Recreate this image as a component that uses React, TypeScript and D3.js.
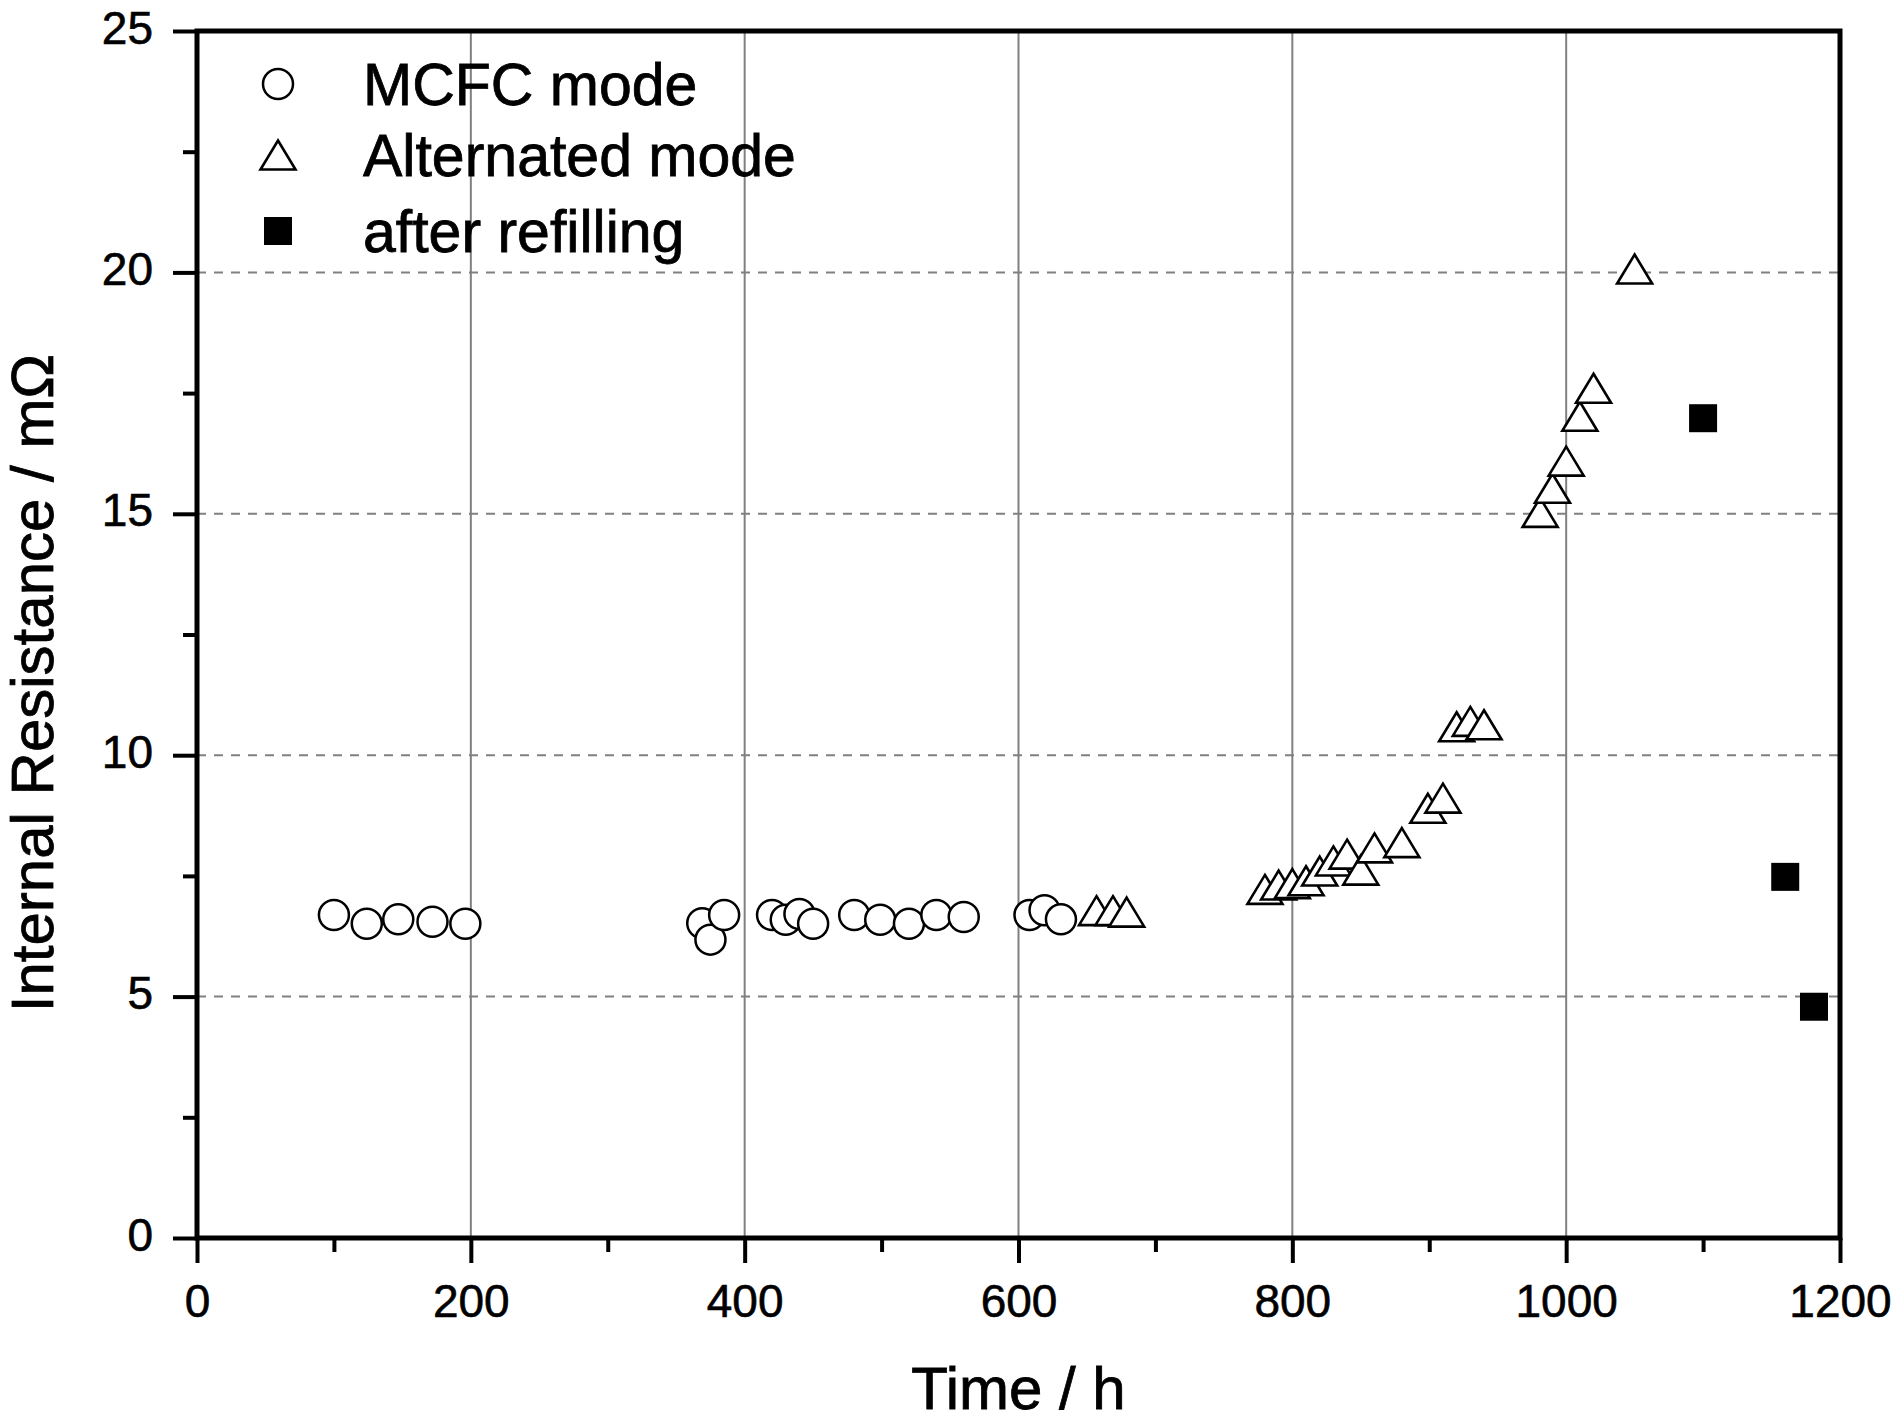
import { useEffect, useRef } from 'react';
import * as d3 from 'd3';

// MCFC mode (open circles)
const mcfcTime = [100, 124, 147, 172, 196, 369, 375, 385, 420, 430, 440, 450, 480, 499, 520, 540, 560, 608, 619, 631];
const mcfcValue = [6.69, 6.51, 6.6, 6.55, 6.51, 6.52, 6.18, 6.69, 6.69, 6.59, 6.71, 6.51, 6.69, 6.59, 6.51, 6.69, 6.65, 6.69, 6.79, 6.6];

// Alternated mode (open triangles)
const altTime = [657, 669, 679, 780, 790, 800, 810, 820, 830, 840, 850, 860, 880, 899, 910, 920, 930, 940, 981, 990, 1000, 1010, 1020, 1050];
const altValue = [6.78, 6.78, 6.75, 7.22, 7.31, 7.34, 7.4, 7.6, 7.81, 7.95, 7.62, 8.08, 8.19, 8.9, 9.11, 10.59, 10.7, 10.63, 15.03, 15.53, 16.09, 17.02, 17.6, 20.07];

// after refilling (filled squares)
const refillTime = [1100, 1160, 1181];
const refillValue = [16.98, 7.48, 4.79];

const xTicks = [0, 200, 400, 600, 800, 1000, 1200];
const xMinorTicks = [100, 300, 500, 700, 900, 1100];
const yTicks = [0, 5, 10, 15, 20, 25];
const yMinorTicks = [2.5, 7.5, 12.5, 17.5, 22.5];
const xGrid = [200, 400, 600, 800, 1000];
const yGrid = [5, 10, 15, 20];
const legendLabels = ['MCFC mode', 'Alternated mode', 'after refilling'];

const W = 1900;
const H = 1422;
const FONT = '"Liberation Sans", Arial, sans-serif';

export default function App() {
  const svgRef = useRef<SVGSVGElement>(null);

  useEffect(() => {
    if (!svgRef.current) return;
    const svg = d3.select(svgRef.current);
    svg.selectAll('*').remove();

    const left = 197;
    const right = 1840;
    const top = 31;
    const bottom = 1238;

    const x = d3.scaleLinear().domain([0, 1200]).range([left, right]);
    const y = d3.scaleLinear().domain([0, 25]).range([bottom, top]);

    svg.append('rect').attr('width', W).attr('height', H).attr('fill', '#fff');

    // grid
    svg
      .append('g')
      .selectAll('line')
      .data(xGrid)
      .enter()
      .append('line')
      .attr('x1', (d) => x(d))
      .attr('x2', (d) => x(d))
      .attr('y1', top)
      .attr('y2', bottom)
      .attr('stroke', '#808080')
      .attr('stroke-width', 2);

    svg
      .append('g')
      .selectAll('line')
      .data(yGrid)
      .enter()
      .append('line')
      .attr('x1', left)
      .attr('x2', right)
      .attr('y1', (d) => y(d))
      .attr('y2', (d) => y(d))
      .attr('stroke', '#808080')
      .attr('stroke-width', 2)
      .attr('stroke-dasharray', '9,8');

    // markers
    const circle = d3.symbol().type(d3.symbolCircle).size(Math.PI * 15 * 15);
    const tri = () => 'M0,-14.5L17.5,14.5L-17.5,14.5Z';

    svg
      .append('g')
      .selectAll('path')
      .data(mcfcTime.map((t, i) => [t, mcfcValue[i]]))
      .enter()
      .append('path')
      .attr('d', circle as any)
      .attr('transform', (d) => `translate(${x(d[0])},${y(d[1])})`)
      .attr('fill', '#fff')
      .attr('stroke', '#000')
      .attr('stroke-width', 2.5);

    svg
      .append('g')
      .selectAll('path')
      .data(altTime.map((t, i) => [t, altValue[i]]))
      .enter()
      .append('path')
      .attr('d', tri)
      .attr('transform', (d) => `translate(${x(d[0])},${y(d[1])})`)
      .attr('fill', '#fff')
      .attr('stroke', '#000')
      .attr('stroke-width', 2.6);

    svg
      .append('g')
      .selectAll('rect')
      .data(refillTime.map((t, i) => [t, refillValue[i]]))
      .enter()
      .append('rect')
      .attr('x', (d) => x(d[0]) - 14)
      .attr('y', (d) => y(d[1]) - 14)
      .attr('width', 28)
      .attr('height', 28)
      .attr('fill', '#000');

    // frame
    svg
      .append('rect')
      .attr('x', left)
      .attr('y', top)
      .attr('width', right - left)
      .attr('height', bottom - top)
      .attr('fill', 'none')
      .attr('stroke', '#000')
      .attr('stroke-width', 5);

    const fmt = d3.format('d');

    // x axis
    const gx = svg.append('g').attr('transform', `translate(0,${bottom})`);
    const gxMinor = svg.append('g').attr('transform', `translate(0,${bottom})`);
    gx.call(d3.axisBottom(x).tickValues(xTicks).tickSize(25).tickSizeOuter(0).tickFormat(fmt as any));
    gxMinor.call(d3.axisBottom(x).tickValues(xMinorTicks).tickSize(14).tickSizeOuter(0).tickFormat(() => ''));
    [gx, gxMinor].forEach((g) => {
      g.selectAll('.domain').remove();
      g.selectAll('line').attr('stroke', '#000').attr('stroke-width', 4);
    });
    gx.selectAll('text')
      .attr('y', 79)
      .attr('dy', 0)
      .attr('fill', '#000')
      .attr('stroke', '#000')
      .attr('stroke-width', 0.6)
      .style('font-family', FONT)
      .style('font-size', '46px');

    // y axis
    const gy = svg.append('g').attr('transform', `translate(${left},0)`);
    const gyMinor = svg.append('g').attr('transform', `translate(${left},0)`);
    gy.call(d3.axisLeft(y).tickValues(yTicks).tickSize(24).tickSizeOuter(0).tickFormat(fmt as any));
    gyMinor.call(d3.axisLeft(y).tickValues(yMinorTicks).tickSize(14).tickSizeOuter(0).tickFormat(() => ''));
    [gy, gyMinor].forEach((g) => {
      g.selectAll('.domain').remove();
      g.selectAll('line').attr('stroke', '#000').attr('stroke-width', 4);
    });
    gy.selectAll('text')
      .attr('x', -44)
      .attr('dy', 0)
      .attr('y', 12)
      .attr('fill', '#000')
      .attr('stroke', '#000')
      .attr('stroke-width', 0.6)
      .style('font-family', FONT)
      .style('font-size', '46px');

    // axis titles
    svg
      .append('text')
      .attr('x', (left + right) / 2)
      .attr('y', 1409)
      .attr('text-anchor', 'middle')
      .attr('stroke', '#000')
      .attr('stroke-width', 0.8)
      .style('font-family', FONT)
      .style('font-size', '60px')
      .text('Time / h');

    svg
      .append('text')
      .attr('transform', 'translate(53,683) rotate(-90)')
      .attr('text-anchor', 'middle')
      .attr('stroke', '#000')
      .attr('stroke-width', 0.8)
      .style('font-family', FONT)
      .style('font-size', '60px')
      .text('Internal Resistance / mΩ');

    // legend
    const legY = [84, 155, 231];
    const lg = svg.append('g');
    lg.append('path')
      .attr('d', circle as any)
      .attr('transform', `translate(278,${legY[0]})`)
      .attr('fill', '#fff')
      .attr('stroke', '#000')
      .attr('stroke-width', 2.5);
    lg.append('path')
      .attr('d', tri())
      .attr('transform', `translate(278,${legY[1]})`)
      .attr('fill', '#fff')
      .attr('stroke', '#000')
      .attr('stroke-width', 2.6);
    lg.append('rect')
      .attr('x', 278 - 14)
      .attr('y', legY[2] - 14)
      .attr('width', 28)
      .attr('height', 28)
      .attr('fill', '#000');
    lg.selectAll('text')
      .data(legendLabels)
      .enter()
      .append('text')
      .attr('x', 363)
      .attr('y', (d, i) => legY[i] + 21)
      .attr('stroke', '#000')
      .attr('stroke-width', 0.8)
      .style('font-family', FONT)
      .style('font-size', '59px')
      .text((d) => d);
  }, []);

  return (
    <div style={{ position: 'absolute', left: 0, top: 0, width: W, height: H }}>
      <svg ref={svgRef} width={W} height={H} style={{ display: 'block' }} />
    </div>
  );
}
